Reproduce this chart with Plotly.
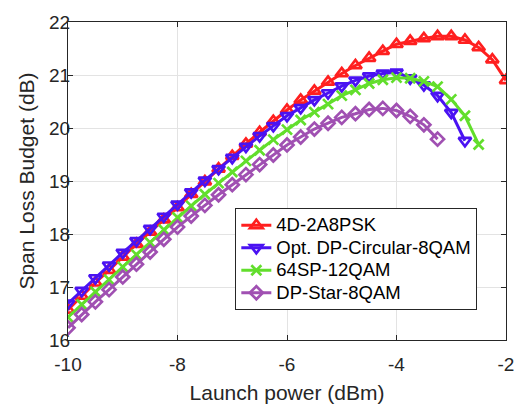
import plotly.graph_objects as go

# launch power grid (dBm), 0.25 dB steps
launch_power = [-10, -9.75, -9.5, -9.25, -9, -8.75, -8.5, -8.25, -8, -7.75, -7.5,
                -7.25, -7, -6.75, -6.5, -6.25, -6, -5.75, -5.5, -5.25, -5, -4.75,
                -4.5, -4.25, -4, -3.75, -3.5, -3.25, -3, -2.75, -2.5, -2.25, -2]

# span loss budget (dB)
budget_4d_2a8psk = [16.57, 16.83, 17.08, 17.32, 17.57, 17.81, 18.04, 18.27, 18.50, 18.75,
                    18.99, 19.23, 19.47, 19.70, 19.92, 20.13, 20.34, 20.53, 20.70, 20.87,
                    21.03, 21.18, 21.32, 21.45, 21.58, 21.64, 21.69, 21.73, 21.73, 21.66,
                    21.52, 21.29, 20.90]
budget_circular_8qam = [16.69, 16.93, 17.17, 17.41, 17.65, 17.87, 18.10, 18.33, 18.56, 18.79,
                        19.01, 19.23, 19.44, 19.65, 19.85, 20.04, 20.23, 20.38, 20.53, 20.66,
                        20.79, 20.90, 20.98, 21.03, 21.05, 20.94, 20.81, 20.61, 20.29, 19.76]
budget_64sp_12qam = [16.43, 16.67, 16.91, 17.14, 17.38, 17.61, 17.84, 18.08, 18.31, 18.53,
                     18.75, 18.96, 19.17, 19.38, 19.58, 19.78, 19.97, 20.15, 20.30, 20.45,
                     20.61, 20.72, 20.84, 20.91, 20.95, 20.94, 20.88, 20.78, 20.54, 20.23,
                     19.69]
budget_star_8qam = [16.23, 16.48, 16.72, 16.95, 17.19, 17.43, 17.66, 17.90, 18.13, 18.34,
                    18.54, 18.74, 18.93, 19.12, 19.31, 19.49, 19.68, 19.83, 19.98, 20.09,
                    20.20, 20.27, 20.35, 20.37, 20.33, 20.22, 20.06, 19.79]

x_tick_vals = [-10, -8, -6, -4, -2]
x_tick_text = ["-10", "-8", "-6", "-4", "-2"]
y_tick_vals = [16, 17, 18, 19, 20, 21, 22]

FONT = "Liberation Sans, Arial, Helvetica, sans-serif"
AX_COLOR = "#262626"

series = [
    ("4D-2A8PSK", budget_4d_2a8psk, "#ff1f1f", "triangle-up-open", 11),
    ("Opt. DP-Circular-8QAM", budget_circular_8qam, "#4a12f2", "triangle-down-open", 11),
    ("64SP-12QAM", budget_64sp_12qam, "#62de2c", "x-thin-open", 10),
    ("DP-Star-8QAM", budget_star_8qam, "#a050b2", "diamond-open", 10),
]

fig = go.Figure()
for name, vals, color, symbol, size in series:
    fig.add_trace(go.Scatter(
        x=launch_power[:len(vals)], y=vals, mode="lines+markers",
        # legend row height follows the legend font size, text drawn a bit larger
        name=f'<span style="font-size:18.5px">{name}</span>',
        line=dict(color=color, width=3),
        marker=dict(symbol=symbol, size=size, color=color,
                    line=dict(color=color, width=2.7)),
    ))

fig.update_layout(
    width=526, height=412,
    margin=dict(l=68, r=19, t=14, b=63),
    paper_bgcolor="white", plot_bgcolor="white",
    font=dict(family=FONT, size=19, color=AX_COLOR),
    showlegend=True,
    legend=dict(
        x=0.382, y=0.415, xanchor="left", yanchor="top",
        bgcolor="white", bordercolor=AX_COLOR, borderwidth=1,
        font=dict(family=FONT, size=15, color="black"),
        itemwidth=30, tracegroupgap=0,
    ),
)
fig.update_xaxes(
    range=[-10, -2], tickvals=x_tick_vals, ticktext=x_tick_text,
    showgrid=True, gridcolor="#e3e3e3", gridwidth=1, zeroline=False,
    showline=True, linecolor=AX_COLOR, linewidth=1, mirror="ticks",
    ticks="inside", ticklen=5, tickcolor=AX_COLOR, ticklabelstandoff=7,
    title=dict(text="Launch power (dBm)", font=dict(size=21), standoff=11),
)
fig.update_yaxes(
    range=[16, 22], tickvals=y_tick_vals,
    showgrid=True, gridcolor="#e3e3e3", gridwidth=1, zeroline=False,
    showline=True, linecolor=AX_COLOR, linewidth=1, mirror="ticks",
    ticks="inside", ticklen=5, tickcolor=AX_COLOR, ticklabelstandoff=-7,
    title=dict(text="Span Loss Budget (dB)", font=dict(size=21), standoff=8),
)

# page body has a default 8px margin; drop it so the figure sits at the window origin
fig.write_html("out.html", config={"displayModeBar": False},
               post_script="document.body.style.margin = '0';")
